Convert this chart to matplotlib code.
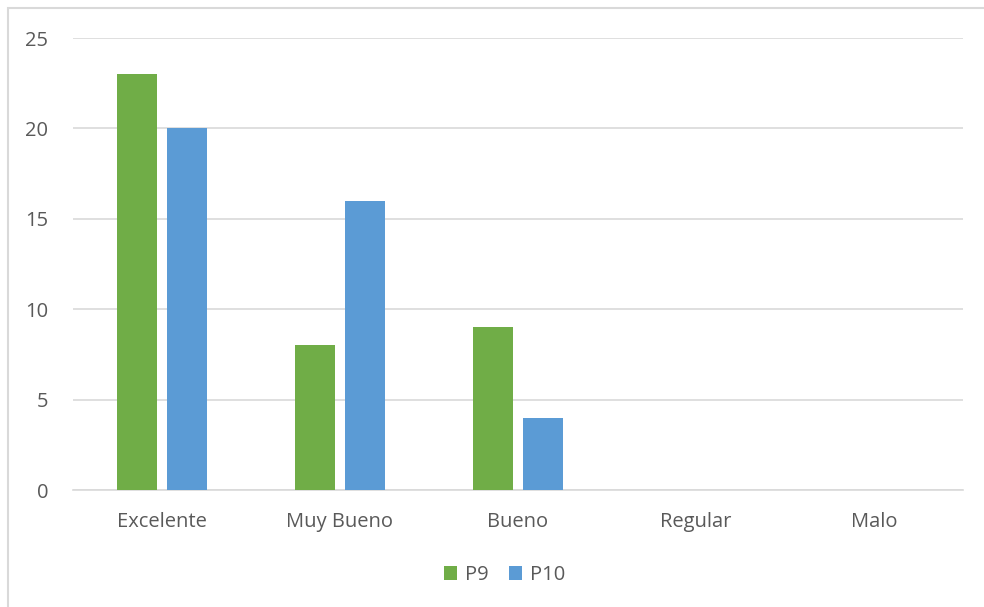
import matplotlib
matplotlib.use("Agg")
import matplotlib.pyplot as plt
import numpy as np
from matplotlib.patches import Rectangle

categories = ["Excelente", "Muy Bueno", "Bueno", "Regular", "Malo"]
p9 = [23, 8, 9, 0, 0]
p10 = [20, 16, 4, 0, 0]
yticks = [0, 5, 10, 15, 20, 25]

plt.rcParams['font.family'] = ['Open Sans', 'DejaVu Sans']
W, H = 984, 607
fig = plt.figure(figsize=(W/100, H/100), dpi=100)
ax = fig.add_axes([73/W, (H-490)/H, (963-73)/W, 452/H])

x = np.arange(len(categories))
bw = 0.225
off = 0.143
ax.bar(x - off, p9, bw, color="#70AD47", label="P9", zorder=3)
ax.bar(x + off, p10, bw, color="#5B9BD5", label="P10", zorder=3)

ax.set_xlim(-0.5, len(categories) - 0.5)
ax.set_ylim(0, 25)
ax.set_yticks(yticks)
ax.set_xticks(x)
ax.set_xticklabels(categories)
ax.grid(axis="y", color="#D9D9D9", linewidth=1.2, zorder=0)
for s in ["top", "right", "left"]:
    ax.spines[s].set_visible(False)
ax.spines["bottom"].set_color("#D9D9D9")
ax.spines["bottom"].set_linewidth(1.2)
ax.tick_params(axis="both", length=0, colors="#595959", labelsize=14.5)
ax.tick_params(axis="y", pad=18)
ax.tick_params(axis="x", pad=16)

leg = fig.legend(loc="center", bbox_to_anchor=(505/W, (H-575)/H), ncol=2,
                 frameon=False, fontsize=14.5, handlelength=0.65, handleheight=0.65,
                 handletextpad=0.4, columnspacing=1.0)
for t in leg.get_texts():
    t.set_color("#595959")

fig.patches.append(Rectangle((8/W, -0.1), 1.2, (H-8)/H + 0.1, transform=fig.transFigure,
                             fill=False, edgecolor="#D9D9D9", linewidth=1.5))

fig.savefig("out.png", dpi=100)
